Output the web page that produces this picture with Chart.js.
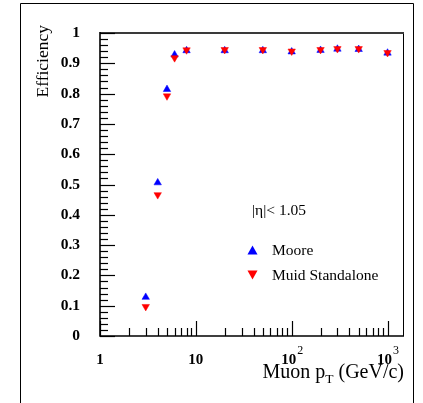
<!DOCTYPE html>
<html>
<head>
<meta charset="utf-8">
<script src="https://cdn.jsdelivr.net/npm/chart.js@4"></script>
<style>
html,body{margin:0;padding:0;background:#fff;}
canvas{display:block;}
</style>
</head>
<body>
<canvas id="c" width="423" height="403"></canvas>
<script>
// ---- data ----
const ptValues = [3, 4, 5, 6, 8, 20, 50, 100, 200, 300, 500, 1000];
const mooreEff = [0.128, 0.506, 0.814, 0.928, 0.942, 0.942, 0.942, 0.938, 0.943, 0.947, 0.946, 0.934];
const muidEff  = [0.097, 0.466, 0.792, 0.918, 0.944, 0.945, 0.945, 0.940, 0.945, 0.948, 0.948, 0.935];
const seriesNames = ["Moore", "Muid Standalone"];
const xMajorTicks = [1, 10, 100, 1000];
const xTickLabels = [["1", ""], ["10", ""], ["10", "2"], ["10", "3"]];
const yTickLabels = ["0", "0.1", "0.2", "0.3", "0.4", "0.5", "0.6", "0.7", "0.8", "0.9", "1"];
const cutLabel = "|\u03B7|< 1.05";

const SERIF = "'Liberation Serif', 'DejaVu Serif', serif";

function tri(ctx, x, y, w, h, down) {
  ctx.beginPath();
  if (!down) {
    ctx.moveTo(x, y - h / 2); ctx.lineTo(x + w / 2, y + h / 2); ctx.lineTo(x - w / 2, y + h / 2);
  } else {
    ctx.moveTo(x, y + h / 2); ctx.lineTo(x + w / 2, y - h / 2); ctx.lineTo(x - w / 2, y - h / 2);
  }
  ctx.closePath(); ctx.fill();
}

const decor = {
  id: 'decor',
  afterDraw(chart) {
    const ctx = chart.ctx, a = chart.chartArea;
    const xs = chart.scales.x, ys = chart.scales.y;
    ctx.save();
    // outer frame
    ctx.strokeStyle = '#000'; ctx.lineWidth = 1;
    ctx.beginPath();
    ctx.moveTo(20.5, 403); ctx.lineTo(20.5, 3.5); ctx.lineTo(413.5, 3.5); ctx.lineTo(413.5, 403);
    ctx.stroke();
    // plot frame
    ctx.strokeStyle = '#000'; ctx.lineWidth = 1;
    ctx.beginPath(); ctx.moveTo(a.right + 0.5, a.top); ctx.lineTo(a.right + 0.5, a.bottom); ctx.stroke();
    ctx.strokeStyle = '#3a3a3a'; ctx.lineWidth = 2;
    ctx.beginPath(); ctx.moveTo(a.left, a.top); ctx.lineTo(a.right + 1, a.top); ctx.stroke();
    ctx.strokeStyle = '#000'; ctx.lineWidth = 1.6;
    ctx.beginPath(); ctx.moveTo(a.left, a.top - 1); ctx.lineTo(a.left, a.bottom); ctx.lineTo(a.right + 1, a.bottom); ctx.stroke();
    // y ticks (inside)
    ctx.lineWidth = 1.2;
    for (let i = 0; i <= 50; i++) {
      const v = i * 0.02;
      const y = Math.round(ys.getPixelForValue(v)) + 0.5;
      const len = (i % 5 === 0) ? 15 : 8;
      ctx.beginPath(); ctx.moveTo(a.left, y); ctx.lineTo(a.left + len, y); ctx.stroke();
    }
    // x ticks (inside, log)
    for (const d of xMajorTicks) {
      for (let k = 1; k <= 9; k++) {
        const v = d * k;
        if (v > xs.max) break;
        const x = Math.round(xs.getPixelForValue(v)) + 0.5;
        const len = (k === 1) ? 15 : 8;
        ctx.beginPath(); ctx.moveTo(x, a.bottom); ctx.lineTo(x, a.bottom - len); ctx.stroke();
      }
    }
    // x tick labels
    ctx.fillStyle = '#000';
    ctx.textBaseline = 'alphabetic';
    xMajorTicks.forEach((v, i) => {
      const x = xs.getPixelForValue(v);
      const [base, sup] = xTickLabels[i];
      ctx.font = 'bold 15px ' + SERIF;
      if (!sup) {
        ctx.textAlign = 'center';
        ctx.fillText(base, x, 364);
      } else {
        ctx.textAlign = 'right';
        ctx.fillText(base, x + 4.5, 364);
        ctx.font = '12px ' + SERIF;
        ctx.textAlign = 'left';
        ctx.fillText(sup, x + 5.5, 354);
      }
    });
    // x axis title, right-aligned to the plot's right edge
    ctx.textAlign = 'left';
    const bigF = '20px ' + SERIF, subF = '13.5px ' + SERIF;
    ctx.font = bigF; const w1 = ctx.measureText('Muon p').width;
    const w3 = ctx.measureText(' (GeV/c)').width;
    ctx.font = subF; const w2 = ctx.measureText('T').width;
    let tx = a.right + 1 - (w1 + w2 + w3);
    ctx.font = bigF; ctx.fillText('Muon p', tx, 378); tx += w1;
    ctx.font = subF; ctx.fillText('T', tx, 383); tx += w2;
    ctx.font = bigF; ctx.fillText(' (GeV/c)', tx, 378);

    ctx.save();
    ctx.translate(48, 25);
    ctx.rotate(-Math.PI / 2);
    ctx.font = '17.5px ' + SERIF;
    ctx.textAlign = 'right';
    ctx.fillText('Efficiency', 0, 0);
    ctx.restore();

    // legend / annotation
    ctx.font = '15.5px ' + SERIF;
    ctx.textAlign = 'left';
    ctx.textBaseline = 'middle';
    ctx.fillText(cutLabel, 252, 211);
    ctx.fillStyle = '#0000ff';
    tri(ctx, 252.5, 250, 10, 9, false);
    ctx.fillStyle = '#ff0000';
    tri(ctx, 252.5, 275, 10, 9, true);
    ctx.fillStyle = '#000';
    ctx.fillText(seriesNames[0], 272, 251);
    ctx.fillText(seriesNames[1], 272, 276);
    ctx.restore();
  }
};

new Chart(document.getElementById('c'), {
  type: 'scatter',
  data: {
    datasets: [
      {
        label: seriesNames[0],
        data: ptValues.map((x, i) => ({ x, y: mooreEff[i] })),
        pointStyle: 'triangle', rotation: 0,
        pointRadius: 4.3, borderWidth: 0.5,
        backgroundColor: '#0000ff', borderColor: '#0000ff',
        order: 1
      },
      {
        label: seriesNames[1],
        data: ptValues.map((x, i) => ({ x, y: muidEff[i] })),
        pointStyle: 'triangle', rotation: 180,
        pointRadius: 4.3, borderWidth: 0.5,
        backgroundColor: '#ff0000', borderColor: '#ff0000',
        order: 0
      }
    ]
  },
  options: {
    responsive: false,
    animation: false,
    devicePixelRatio: 1,
    layout: { padding: { left: 20, top: 33, right: 20, bottom: 67 } },
    plugins: { legend: { display: false }, tooltip: { enabled: false } },
    scales: {
      x: { type: 'logarithmic', min: 1, max: 1450, display: false },
      y: {
        min: 0, max: 1,
        afterFit: s => { s.width = 80; },
        grid: { display: false, drawTicks: false, tickLength: 0 },
        border: { display: false },
        ticks: {
          stepSize: 0.1,
          padding: 20,
          color: '#000',
          font: { family: SERIF, size: 15.5, weight: 'bold' },
          callback: (v) => yTickLabels[Math.round(v * 10)]
        }
      }
    }
  },
  plugins: [decor]
});
</script>
</body>
</html>
